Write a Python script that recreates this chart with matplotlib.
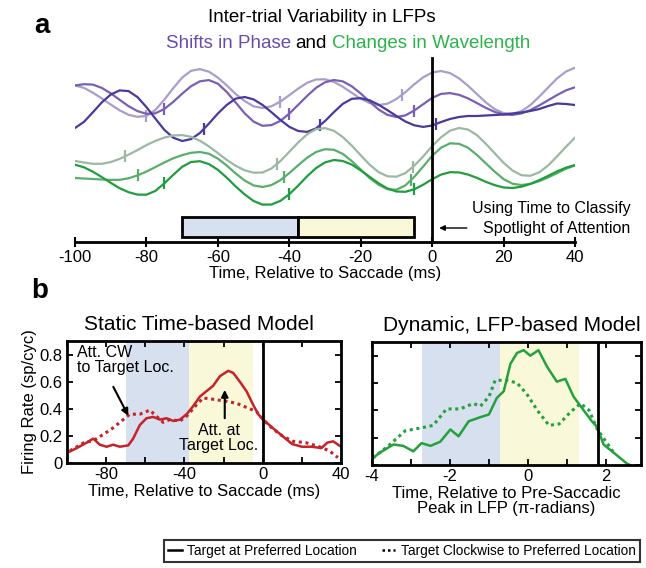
import numpy as np
import matplotlib
matplotlib.use("Agg")
import matplotlib.pyplot as plt
from matplotlib.patches import Rectangle
from matplotlib.lines import Line2D

plt.rcParams['font.family'] = ['Liberation Sans', 'DejaVu Sans']
plt.rcParams['axes.unicode_minus'] = False

# ---- panel a: example LFP traces (arbitrary offset units), read every 2.5 ms ----
lfp_time = np.arange(-100, 40.1, 2.5)
phase_light = [15.66, 15.41, 14.93, 14.36, 13.75, 13.17, 12.72, 12.52, 12.61, 13.20, 14.23, 15.38, 16.44, 17.12,
               17.29, 17.03, 16.44, 15.66, 14.80, 14.10, 13.57, 13.40, 13.57, 14.04, 14.68, 15.34, 15.92, 16.25,
               16.27, 16.01, 15.52, 14.92, 14.32, 13.90, 13.70, 13.83, 14.30, 14.98, 15.77, 16.47, 16.95, 17.10,
               16.89, 16.37, 15.64, 14.80, 13.97, 13.29, 12.89, 12.81, 13.09, 13.69, 14.54, 15.46, 16.37, 17.05,
               17.43]
phase_mid = [15.65, 15.78, 15.74, 15.41, 14.87, 14.22, 13.58, 13.09, 12.82, 12.87, 13.30, 14.01, 14.83, 15.58,
             16.07, 16.19, 15.83, 15.00, 13.95, 12.87, 12.04, 11.62, 11.69, 12.11, 12.84, 13.72, 14.61, 15.42,
             15.97, 16.20, 16.06, 15.57, 14.85, 14.03, 13.25, 12.71, 12.50, 12.66, 13.15, 13.78, 14.41, 14.81,
             14.89, 14.72, 14.37, 13.90, 13.42, 13.01, 12.76, 12.71, 12.86, 13.19, 13.66, 14.18, 14.70, 15.17,
             15.47]
phase_dark = [11.40, 12.01, 12.97, 13.96, 14.74, 15.16, 15.09, 14.49, 13.49, 12.34, 11.22, 10.43, 10.10, 10.29,
              10.91, 11.84, 12.85, 13.71, 14.34, 14.50, 14.26, 13.71, 12.98, 12.21, 11.52, 11.10, 11.01, 11.36,
              12.09, 12.99, 13.82, 14.32, 14.38, 14.17, 13.73, 13.18, 12.60, 12.05, 11.67, 11.51, 11.65, 12.00,
              12.30, 12.50, 12.60, 12.60, 12.65, 12.70, 12.75, 12.85, 12.95, 13.10, 13.30, 13.60, 13.85, 13.80,
              13.70]
wave_gray = [8.10, 7.95, 7.82, 7.82, 7.99, 8.31, 8.74, 9.19, 9.69, 10.11, 10.44, 10.65, 10.69, 10.52,
             10.12, 9.56, 8.89, 8.21, 7.62, 7.17, 6.93, 6.95, 7.35, 8.09, 9.02, 9.96, 10.77, 11.28,
             11.39, 11.12, 10.49, 9.64, 8.67, 7.73, 6.99, 6.57, 6.53, 6.89, 7.63, 8.56, 9.59, 10.47,
             11.13, 11.40, 11.25, 10.70, 9.84, 8.88, 7.92, 7.15, 6.68, 6.62, 6.97, 7.66, 8.57, 9.53,
             10.44]
wave_mid = [6.40, 6.35, 6.30, 6.25, 6.21, 6.22, 6.37, 6.66, 7.04, 7.49, 7.95, 8.37, 8.69, 8.92,
            9.00, 8.83, 8.34, 7.64, 6.85, 6.15, 5.66, 5.50, 5.69, 6.18, 6.89, 7.68, 8.43, 9.00,
            9.28, 9.22, 8.81, 8.09, 7.25, 6.39, 5.73, 5.28, 5.23, 5.66, 6.52, 7.55, 8.62, 9.43,
            9.87, 9.82, 9.44, 8.72, 7.88, 7.04, 6.29, 5.83, 5.70, 5.81, 6.09, 6.46, 6.89, 7.33,
            7.66]
wave_bright = [7.73, 7.47, 7.03, 6.49, 5.92, 5.38, 4.98, 4.74, 4.73, 5.11, 5.86, 6.71, 7.52, 8.00,
               8.08, 7.79, 7.22, 6.43, 5.55, 4.76, 4.10, 3.74, 3.75, 4.11, 4.78, 5.64, 6.58, 7.39,
               7.96, 8.20, 8.10, 7.74, 7.16, 6.52, 5.87, 5.35, 5.05, 5.02, 5.27, 5.73, 6.28, 6.74,
               6.98, 6.96, 6.75, 6.42, 6.02, 5.69, 5.45, 5.40, 5.53, 5.81, 6.19, 6.62, 7.06, 7.44,
               7.69]

# phase markers on each trace (ms)
marks_light = [-80, -42.5, -8.5]
marks_mid = [-75, -40, -5]
marks_dark = [-64, -31.5, 1]
marks_gray = [-86, -43.5, -5.5]
marks_wmid = [-82.5, -41.5, -6]
marks_bright = [-75, -40, -5]

traces = [
    (phase_light, marks_light, '#a99dcc'),
    (phase_mid, marks_mid, '#7b5fb4'),
    (phase_dark, marks_dark, '#4a3a9c'),
    (wave_gray, marks_gray, '#9cb8a3'),
    (wave_mid, marks_wmid, '#5aae6b'),
    (wave_bright, marks_bright, '#1f9e3f'),
]

# attention windows (ms)
win_cw = (-70, -37.5)
win_target = (-37.5, -5)

# ---- panel b left: static time-based model ----
t_solid = [-100, -95, -90, -86.6, -83.2, -79.8, -76.4, -73, -68.7, -66.2, -62.8, -59.4, -56, -52.5, -49.1,
           -45.7, -42.3, -38.9, -35.5, -32.1, -28.7, -25.3, -21.9, -17.6, -15.1, -11.7, -8.3, -4.9, -2.3,
           0.2, 5, 10, 15, 20, 25, 30, 33, 36, 40]
fr_solid = [0.075, 0.11, 0.15, 0.18, 0.135, 0.12, 0.135, 0.12, 0.13, 0.18, 0.28, 0.33, 0.34, 0.32, 0.33,
            0.31, 0.32, 0.36, 0.42, 0.49, 0.53, 0.57, 0.64, 0.68, 0.665, 0.60, 0.53, 0.43, 0.36,
            0.32, 0.26, 0.20, 0.14, 0.12, 0.12, 0.11, 0.15, 0.16, 0.12]
t_dot = [-98.5, -91.3, -86.6, -81.5, -76.4, -71.3, -67.9, -62.8, -57.7, -54.3, -50.9, -47.5, -42.3, -38.9,
         -33.8, -30.4, -25.3, -18.4, -13.3, -8.3, -3.2, 0.2, 5.3, 10, 15.5, 22, 29, 34, 38.4]
fr_dot = [0.09, 0.15, 0.165, 0.21, 0.26, 0.32, 0.36, 0.36, 0.39, 0.345, 0.30, 0.32, 0.31, 0.345,
          0.43, 0.48, 0.47, 0.455, 0.44, 0.41, 0.38, 0.32, 0.25, 0.20, 0.16, 0.15, 0.12, 0.09, 0.04]

# ---- panel b right: dynamic LFP-based model (pi-radians) ----
p_solid = [-3.98, -3.8, -3.45, -3.2, -2.94, -2.73, -2.5, -2.25, -1.99, -1.78, -1.52, -1.22, -1.0, -0.8,
           -0.62, -0.45, -0.28, -0.11, 0.06, 0.27, 0.49, 0.74, 0.96, 1.17, 1.43, 1.64, 1.77, 1.94, 2.2,
           2.54, 2.62]
fr_p_solid = [0.05, 0.09, 0.15, 0.14, 0.10, 0.16, 0.14, 0.17, 0.26, 0.21, 0.32, 0.35, 0.37, 0.49,
              0.54, 0.74, 0.82, 0.84, 0.80, 0.84, 0.72, 0.61, 0.63, 0.50, 0.40, 0.32, 0.28, 0.15, 0.09,
              0.01, 0.0]
p_dot = [-3.98, -3.54, -3.15, -2.77, -2.43, -2.09, -1.74, -1.4, -1.22, -1.0, -0.84, -0.54, -0.28, -0.03,
         0.24, 0.54, 0.8, 1.1, 1.35, 1.57, 1.78, 2.03, 2.2]
fr_p_dot = [0.05, 0.15, 0.25, 0.27, 0.29, 0.41, 0.41, 0.45, 0.43, 0.50, 0.62, 0.62, 0.60, 0.52,
            0.40, 0.29, 0.30, 0.39, 0.45, 0.40, 0.26, 0.16, 0.09]
win_cw_phase = (-2.72, -0.72)
win_target_phase = (-0.72, 1.3)
saccade_phase = 1.8

W, H = 646, 568
fig = plt.figure(figsize=(W / 100, H / 100), dpi=100)


def px(x0, y0, x1, y1):
    # pixel box -> figure fraction rect
    return [x0 / W, 1 - y1 / H, (x1 - x0) / W, (y1 - y0) / H]


blue = '#d6e0ef'
yellow = '#f9f9d9'
red = '#c62229'
green = '#23a13d'
fs = 12

# ---------------- panel a ----------------
ax = fig.add_axes(px(75, 55, 575, 242))
for vals, marks, col in traces:
    ax.plot(lfp_time, vals, color=col, lw=1.6, solid_capstyle='round', solid_joinstyle='round')
    ax.plot(marks, np.interp(marks, lfp_time, vals), ls='none', marker='|', ms=8, mew=1.6, color=col)

ax.plot([0, 0], [0, 18.4], color='k', lw=2)
ax.add_patch(Rectangle((win_cw[0], 0.5), win_cw[1] - win_cw[0], 2.0, fc=blue, ec='k', lw=2))
ax.add_patch(Rectangle((win_target[0], 0.5), win_target[1] - win_target[0], 2.0, fc=yellow, ec='k', lw=2))
ax.annotate('', xy=(1.2, 1.4), xytext=(10.5, 1.4),
            arrowprops=dict(arrowstyle='-|>', lw=1, color='k', mutation_scale=8))
ax.text(55.5, 3.4, 'Using Time to Classify', ha='right', va='center', fontsize=11.5, clip_on=False)
ax.text(55.5, 1.4, 'Spotlight of Attention', ha='right', va='center', fontsize=11.5, clip_on=False)

ax.set_xlim(-100, 40)
ax.set_ylim(0, 18.7)
for s in ['top', 'right', 'left']:
    ax.spines[s].set_visible(False)
ax.spines['bottom'].set_linewidth(2)
ax.set_yticks([])
ax.set_xticks(np.arange(-100, 41, 20))
ax.tick_params(axis='x', direction='inout', length=7, width=1.5, labelsize=fs, pad=2)
ax.set_xlabel('Time, Relative to Saccade (ms)', fontsize=fs, labelpad=1)
ax.patch.set_alpha(0)

fig.text(322 / W, 1 - 18 / H, 'Inter-trial Variability in LFPs', ha='center', va='center', fontsize=13.5)
fig.text(291 / W, 1 - 44 / H, 'Shifts in Phase', ha='right', va='center', fontsize=13.5, color='#6a4cab')
fig.text(311 / W, 1 - 44 / H, 'and', ha='center', va='center', fontsize=13.5)
fig.text(332 / W, 1 - 44 / H, 'Changes in Wavelength', ha='left', va='center', fontsize=13.5, color='#2db24b')
fig.text(42 / W, 1 - 26 / H, 'a', ha='center', va='center', fontsize=20, fontweight='bold')
fig.text(40 / W, 1 - 291 / H, 'b', ha='center', va='center', fontsize=20, fontweight='bold')

# ---------------- panel b left ----------------
ax1 = fig.add_axes(px(67, 341, 341, 463))
ax1.axvspan(*win_cw, color=blue, lw=0)
ax1.axvspan(*win_target, color=yellow, lw=0)
ax1.plot(t_solid, fr_solid, color=red, lw=1.8)
ax1.plot(t_dot, fr_dot, color=red, lw=2.2, ls=(0, (1, 1.2)))
ax1.axvline(0, color='k', lw=2)
ax1.set_xlim(-100, 40)
ax1.set_ylim(0, 0.9)
ax1.set_xticks(np.arange(-100, 41, 20))
ax1.set_xticklabels(['', '-80', '', '-40', '', '0', '', '40'])
ax1.set_yticks([0, 0.2, 0.4, 0.6, 0.8])
ax1.set_yticklabels(['0', '0.2', '0.4', '0.6', '0.8'])
ax1.set_title('Static Time-based Model', fontsize=15, pad=8, x=0.48)
ax1.set_xlabel('Time, Relative to Saccade (ms)', fontsize=fs, labelpad=1)
ax1.set_ylabel('Firing Rate (sp/cyc)', fontsize=fs, labelpad=2)
ax1.text(-95, 0.76, 'Att. CW\nto Target Loc.', ha='left', va='center', fontsize=11.5, linespacing=1.05)
ax1.annotate('', xy=(-68, 0.33), xytext=(-77, 0.58),
             arrowprops=dict(arrowstyle='-|>', lw=1.5, color='k', mutation_scale=10))
ax1.text(-22.5, 0.185, 'Att. at\nTarget Loc.', ha='center', va='center', fontsize=11.5, linespacing=1.05)
ax1.annotate('', xy=(-19.4, 0.56), xytext=(-19.4, 0.31),
             arrowprops=dict(arrowstyle='-|>', lw=1.5, color='k', mutation_scale=10))

# ---------------- panel b right ----------------
ax2 = fig.add_axes(px(372, 342, 641, 465))
ax2.axvspan(*win_cw_phase, color=blue, lw=0)
ax2.axvspan(*win_target_phase, color=yellow, lw=0)
ax2.plot(p_solid, fr_p_solid, color=green, lw=1.8)
ax2.plot(p_dot, fr_p_dot, color=green, lw=2.2, ls=(0, (1, 1.2)))
ax2.axvline(saccade_phase, color='k', lw=2)
ax2.set_xlim(-4, 2.9)
ax2.set_ylim(0, 0.9)
ax2.set_xticks(np.arange(-4, 3, 1))
ax2.set_xticklabels(['-4', '', '-2', '', '0', '', '2'])
ax2.set_yticks([0, 0.2, 0.4, 0.6, 0.8])
ax2.set_yticklabels([])
ax2.set_title('Dynamic, LFP-based Model', fontsize=15, pad=8, x=0.52)
ax2.set_xlabel('Time, Relative to Pre-Saccadic\nPeak in LFP (\u03c0-radians)', fontsize=fs, labelpad=1,
               linespacing=1.05)

for a in (ax1, ax2):
    for s in a.spines.values():
        s.set_linewidth(2)
    a.tick_params(direction='in', top=True, right=True, length=4, width=1.3, labelsize=fs, pad=3)

handles = [Line2D([], [], color='k', lw=1.8), Line2D([], [], color='k', lw=1.8, ls=(0, (1, 1.2)))]
leg = fig.legend(handles, ['Target at Preferred Location', 'Target Clockwise to Preferred Location'],
                 loc='center', bbox_to_anchor=(402 / W, 1 - 551 / H), ncol=2, fontsize=9.8,
                 frameon=True, fancybox=False, edgecolor='k', handlelength=1.0, handletextpad=0.4,
                 columnspacing=1.8, borderpad=0.3, borderaxespad=0)
leg.get_frame().set_linewidth(1.5)

fig.savefig('out.png', dpi=100)
